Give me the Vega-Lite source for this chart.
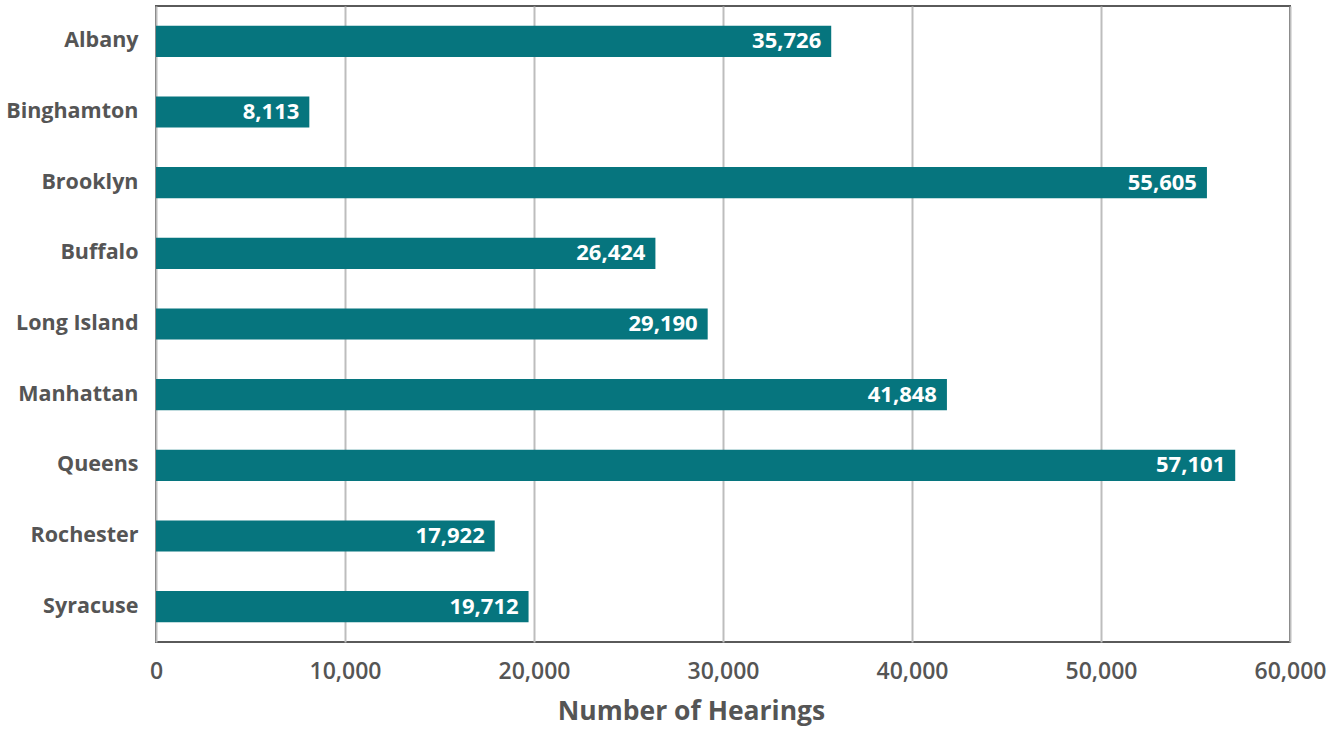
{
  "$schema": "https://vega.github.io/schema/vega-lite/v6.json",
  "autosize": "none",
  "width": 1134,
  "height": 636,
  "padding": {"left": 156, "top": 6, "right": 52, "bottom": 88},
  "background": "white",
  "config": {
    "font": "Open Sans",
    "view": {"stroke": "#5a5a5a", "strokeWidth": 2},
    "axis": {"domain": false, "ticks": false, "labelColor": "#555555", "titleColor": "#555555", "labelFont": "Open Sans", "titleFont": "Open Sans"}
  },
  "data": {
    "values": [
      {"office": "Albany", "hearings": 35726},
      {"office": "Binghamton", "hearings": 8113},
      {"office": "Brooklyn", "hearings": 55605},
      {"office": "Buffalo", "hearings": 26424},
      {"office": "Long Island", "hearings": 29190},
      {"office": "Manhattan", "hearings": 41848},
      {"office": "Queens", "hearings": 57101},
      {"office": "Rochester", "hearings": 17922},
      {"office": "Syracuse", "hearings": 19712}
    ]
  },
  "encoding": {
    "y": {
      "field": "office", "type": "nominal", "sort": null, "title": null,
      "scale": {"paddingInner": 0.56, "paddingOuter": 0.28},
      "axis": {"labelFontSize": 21.5, "labelFontWeight": "bold", "labelPadding": 18, "grid": false}
    },
    "x": {
      "field": "hearings", "type": "quantitative", "title": "Number of Hearings",
      "scale": {"domain": [0, 60000], "nice": false},
      "axis": {"values": [0, 10000, 20000, 30000, 40000, 50000, 60000], "labelExpr": "format(datum.value, ',')", "labelFontSize": 23, "labelFontWeight": 600, "labelPadding": 18, "titleFontSize": 26.5, "titleFontWeight": "bold", "titlePadding": 15, "titleX": 535, "grid": true, "gridColor": "#bdbdbd", "gridWidth": 2, "labelFlush": false}
    }
  },
  "layer": [
    {"mark": {"type": "bar", "color": "#06757e"}},
    {
      "mark": {"type": "text", "align": "right", "baseline": "middle", "dx": -10, "color": "white", "fontSize": 22, "fontWeight": "bold", "font": "Open Sans"},
      "encoding": {"text": {"field": "hearings", "type": "quantitative", "format": ","}}
    }
  ]
}
